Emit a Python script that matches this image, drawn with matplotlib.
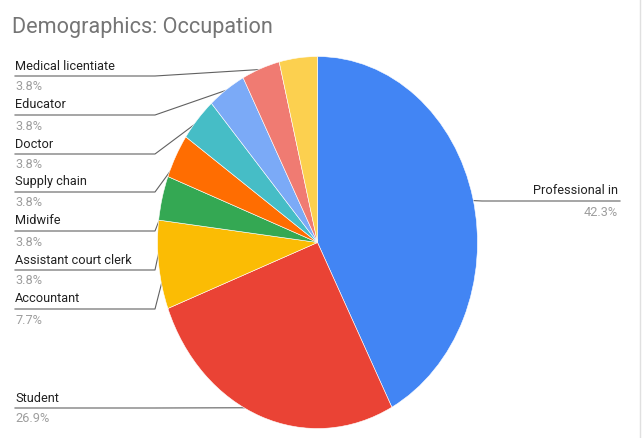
import numpy as np
import matplotlib
matplotlib.use('Agg')
import matplotlib.pyplot as plt

plt.rcParams['font.family'] = ['Roboto', 'DejaVu Sans']

# Data
labels = ['Professional in', 'Student', 'Accountant', 'Assistant court clerk',
          'Midwife', 'Supply chain', 'Doctor', 'Educator', 'Medical licentiate']
counts = [11, 7, 2, 1, 1, 1, 1, 1, 1]
colors = ['#4285F4', '#EA4335', '#FBBC04', '#34A853', '#FF6D01',
          '#46BDC6', '#7BAAF7', '#F07B72', '#FCD04F']

W, H = 643, 438
fig = plt.figure(figsize=(W / 100, H / 100), dpi=100)

# overlay axes in pixel coordinates for labels / leader lines
ov = fig.add_axes([0, 0, 1, 1])
ov.set_xlim(0, W)
ov.set_ylim(H, 0)
ov.axis('off')

# pie axes, elliptical (the reference is stretched vertically)
cx, cy, rx, ry = 317.5, 242.5, 160, 186
pa = fig.add_axes([(cx - rx) / W, (H - cy - ry) / H, 2 * rx / W, 2 * ry / H])
wedges, _ = pa.pie(counts, colors=colors, startangle=90, counterclock=False,
                   radius=1, wedgeprops=dict(linewidth=0.4, edgecolor='white'))
pa.set_aspect('auto')
pa.set_xlim(-1, 1)
pa.set_ylim(-1, 1)
pa.axis('off')

fig.text(12 / W, 1 - 27 / H, 'Demographics: Occupation', fontsize=15.6,
         color='#757575', va='center', ha='left')

total = sum(counts)
pcts = [100 * c / total for c in counts]

# y of the underline for each label (pixels)
line_y = {'Medical licentiate': 76, 'Educator': 115, 'Doctor': 154,
          'Supply chain': 192, 'Midwife': 231, 'Assistant court clerk': 270,
          'Accountant': 309, 'Student': 408, 'Professional in': 201}

fig.canvas.draw()
to_px = pa.transData + ov.transData.inverted()

fs = 9.2
for w, lab, p in zip(wedges, labels, pcts):
    mid = np.deg2rad((w.theta1 + w.theta2) / 2)
    px, py = to_px.transform((0.95 * np.cos(mid), 0.95 * np.sin(mid)))
    ly = line_y[lab]
    if lab == 'Professional in':
        ov.plot([620, 482, px], [ly, ly, py], color='#616161', lw=0.8)
        ov.text(618, ly - 11, lab, fontsize=fs, color='#222222',
                ha='right', va='center')
        ov.text(618, ly + 11, f'{p:.1f}%', fontsize=fs, color='#9e9e9e',
                ha='right', va='center')
    else:
        ov.plot([15, 155, px], [ly, ly, py], color='#616161', lw=0.8)
        ov.text(15, ly - 10, lab, fontsize=fs, color='#222222',
                ha='left', va='center')
        ov.text(15, ly + 11, f'{p:.1f}%', fontsize=fs, color='#9e9e9e',
                ha='left', va='center')
    ov.plot([px], [py], 'o', ms=2, color='#9e9e9e', alpha=0.8)

ov.plot([640, 640], [0, H], color='#e0e0e0', lw=1)

fig.savefig('out.png', dpi=100)
